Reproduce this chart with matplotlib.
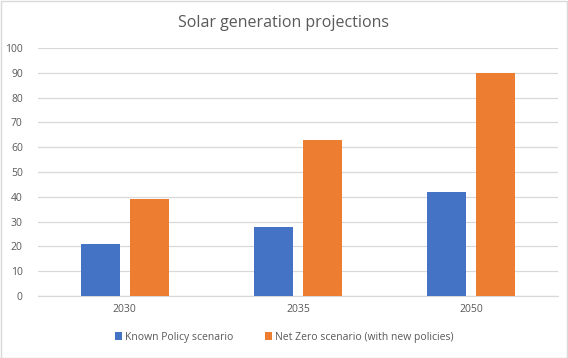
import numpy as np
import matplotlib
matplotlib.use("Agg")
import matplotlib.pyplot as plt
from matplotlib.patches import Rectangle

categories = ["2030", "2035", "2050"]
known_policy = [21, 28, 42]
net_zero = [39, 63, 90]
series_names = ["Known Policy scenario", "Net Zero scenario (with new policies)"]
yticks = list(range(0, 101, 10))

BLUE = "#4472C4"
ORANGE = "#ED7D31"
TEXT = "#595959"
GRID = "#D9D9D9"

plt.rcParams["font.family"] = ["Open Sans", "DejaVu Sans"]

fig = plt.figure(figsize=(5.68, 3.58), dpi=100)
ax = fig.add_axes([0.067, 0.173, 0.915, 0.693])

x = np.arange(len(categories))
w = 0.225
gap = 0.057
ax.bar(x - (w + gap) / 2, known_policy, w, color=BLUE, label=series_names[0], zorder=3)
ax.bar(x + (w + gap) / 2, net_zero, w, color=ORANGE, label=series_names[1], zorder=3)

ax.set_xlim(-0.5, len(categories) - 0.5)
ax.set_ylim(0, 100)
ax.set_yticks(yticks)
ax.set_xticks(x)
ax.set_xticklabels(categories)
ax.tick_params(axis="both", length=0, labelsize=7.5, colors=TEXT)
ax.tick_params(axis="y", pad=11)
ax.tick_params(axis="x", pad=6)
ax.grid(axis="y", color=GRID, linewidth=0.9, zorder=0)
for s in ["top", "right", "left"]:
    ax.spines[s].set_visible(False)
ax.spines["bottom"].set_color(GRID)
ax.spines["bottom"].set_linewidth(0.9)

fig.text(0.5, 0.935, "Solar generation projections", ha="center", va="center",
         fontsize=11.5, color=TEXT)

leg = fig.legend(loc="center", bbox_to_anchor=(0.5, 0.058), ncol=2, frameon=False,
                 fontsize=7.5, handlelength=0.7, handleheight=0.7, handletextpad=0.3,
                 columnspacing=3.0)
for t in leg.get_texts():
    t.set_color(TEXT)

fig.patches.append(Rectangle((0.001, 0.001), 0.997, 0.996, transform=fig.transFigure,
                             fill=False, edgecolor="#D9D9D9", linewidth=1))

fig.savefig("out.png", dpi=100)
